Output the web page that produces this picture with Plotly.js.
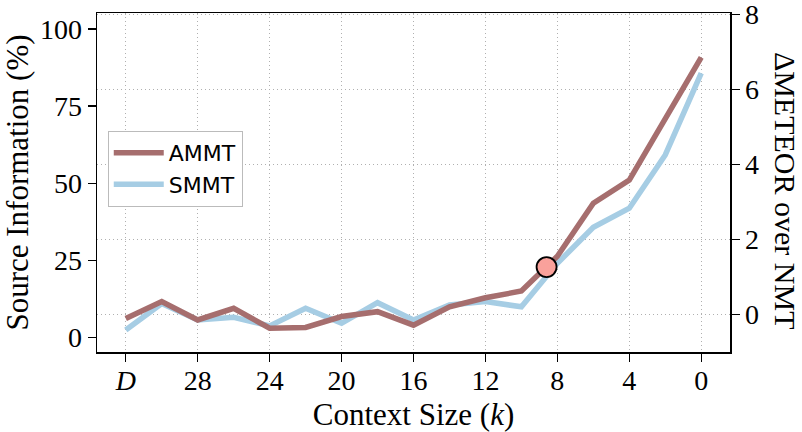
<!DOCTYPE html>
<html>
<head>
<meta charset="utf-8">
<script src="https://cdn.plot.ly/plotly-3.0.1.min.js"></script>
<style>html,body{margin:0;padding:0;background:#fff;}#chart{width:802px;height:432px;}</style>
</head>
<body>
<div id="chart"></div>
<script>
// Context size k (32 stands for the full document D)
const contextK = [32, 30, 28, 26, 24, 22, 20, 18, 16, 14, 12, 10, 8, 6, 4, 2, 0];
// ΔMETEOR over NMT
const ammtDelta = [-0.11, 0.34, -0.15, 0.16, -0.37, -0.35, -0.06, 0.07, -0.29, 0.20, 0.44, 0.62, 1.55, 2.96, 3.58, 5.23, 6.85];
const smmtDelta = [-0.42, 0.29, -0.15, -0.08, -0.31, 0.16, -0.24, 0.31, -0.15, 0.25, 0.34, 0.20, 1.36, 2.32, 2.83, 4.25, 6.43];
// highlighted point
const markK = [8.6];
const markDelta = [1.26];
// tick labels
const xTickVals = [32, 28, 24, 20, 16, 12, 8, 4, 0];
const xTickText = ['<i>D</i>', '28', '24', '20', '16', '12', '8', '4', '0'];
const y1TickVals = [0, 25, 50, 75, 100];
const y2TickVals = [0, 2, 4, 6, 8];

const serif = 'Liberation Serif, Times New Roman, serif';
const gridDash = '1px,3px';

const traces = [
  {x: contextK, y: smmtDelta, yaxis: 'y2', type: 'scatter', mode: 'lines', name: 'SMMT',
   legendrank: 2, line: {color: '#a6cde4', width: 5.5}},
  {x: contextK, y: ammtDelta, yaxis: 'y2', type: 'scatter', mode: 'lines', name: 'AMMT',
   legendrank: 1, line: {color: '#a66e6e', width: 5.5}},
  {x: markK, y: markDelta, yaxis: 'y2', type: 'scatter', mode: 'markers', showlegend: false,
   marker: {size: 20, color: '#f9a19b', line: {color: '#000', width: 1.8}}},
  // invisible trace to activate the left axis
  {x: [contextK[0]], y: [null], yaxis: 'y', type: 'scatter', mode: 'lines', showlegend: false, hoverinfo: 'skip'}
];

const layout = {
  width: 802, height: 432,
  margin: {l: 97, r: 72, t: 13, b: 80},
  paper_bgcolor: '#fff', plot_bgcolor: '#fff',
  font: {family: serif, color: '#000', size: 28},
  showlegend: true,
  legend: {x: 0.017, y: 0.652, xanchor: 'left', yanchor: 'top',
    bgcolor: '#fff', bordercolor: '#bbbbbb', borderwidth: 1, itemwidth: 50,
    font: {family: 'DejaVu Sans, sans-serif', size: 22, color: '#000'}},
  xaxis: {range: [33.6, -1.6], tickvals: xTickVals, ticktext: xTickText,
    showline: true, linecolor: '#000', linewidth: 1.5, mirror: true,
    ticks: 'outside', ticklen: 8, tickwidth: 1.2, tickcolor: '#000',
    ticklabelstandoff: -5,
    showgrid: true, gridcolor: '#b0b0b0', griddash: gridDash, gridwidth: 1,
    zeroline: false, tickfont: {size: 28, family: serif},
    title: {text: 'Context Size (<i>k</i>)', font: {size: 31, family: serif}, standoff: 8}},
  yaxis: {range: [-4.8, 105.2], tickvals: y1TickVals,
    showline: true, linecolor: '#000', linewidth: 1.5,
    ticks: 'outside', ticklen: 8, tickwidth: 1.2, tickcolor: '#000',
    ticklabeloverflow: 'allow',
    showgrid: false, zeroline: false, tickfont: {size: 28, family: serif},
    title: {text: 'Source Information (%)', font: {size: 31, family: serif}, standoff: 4}},
  yaxis2: {range: [-1.005, 8.035], tickvals: y2TickVals, overlaying: 'y', side: 'right',
    showline: true, linecolor: '#000', linewidth: 1.5,
    ticks: 'outside', ticklen: 8, tickwidth: 1.2, tickcolor: '#000',
    ticklabeloverflow: 'allow',
    showgrid: true, gridcolor: '#b0b0b0', griddash: gridDash, gridwidth: 1,
    zeroline: false, tickfont: {size: 28, family: serif}},
  annotations: [
    {text: 'ΔMETEOR over NMT', xref: 'paper', yref: 'paper', x: 1.087, y: 0.475,
     xanchor: 'center', yanchor: 'middle', textangle: 90, showarrow: false,
     font: {size: 30, family: serif, color: '#000'}}
  ]
};

Plotly.newPlot('chart', traces, layout, {displayModeBar: false, staticPlot: true});
</script>
</body>
</html>
